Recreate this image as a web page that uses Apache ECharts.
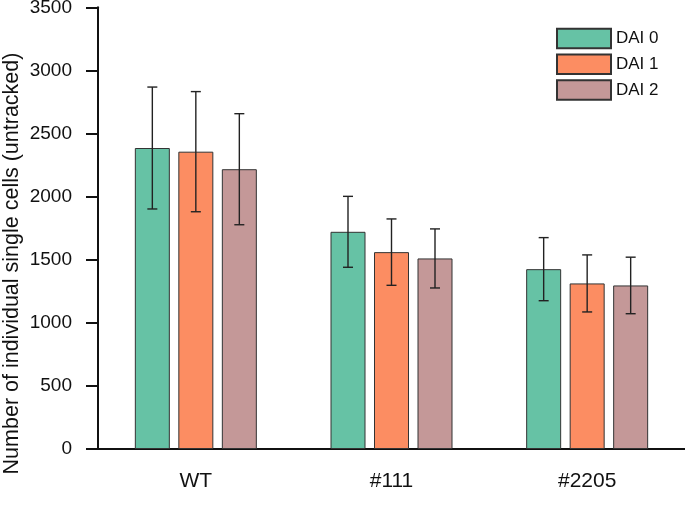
<!DOCTYPE html>
<html>
<head>
<meta charset="utf-8">
<script src="https://cdn.jsdelivr.net/npm/echarts@6/dist/echarts.min.js"></script>
<style>html,body{margin:0;padding:0;background:#fff}#c{width:685px;height:531px}</style>
</head>
<body>
<div id="c"></div>
<script>
const categories = ['WT', '#111', '#2205'];
const seriesNames = ['DAI 0', 'DAI 1', 'DAI 2'];
const dai0 = [2385, 1721, 1425];
const dai1 = [2356, 1560, 1312];
const dai2 = [2217, 1510, 1296];
const err0 = [483, 281, 250];
const err1 = [476, 263, 226];
const err2 = [440, 234, 224];
const yTicks = [0, 500, 1000, 1500, 2000, 2500, 3000, 3500];
const yTitle = 'Number of individual single cells (untracked)';

const means = [dai0, dai1, dai2];
const errs = [err0, err1, err2];
const colors = ['#66c2a5', '#fc8d62', '#c49898'];
const FONT = '"Liberation Sans", Arial, sans-serif';
const BAR_W = 35, BAR_GAP = 8.5;

const chart = echarts.init(document.getElementById('c'), null, {renderer: 'canvas'});

const series = [];
means.forEach((m, i) => {
  series.push({
    name: seriesNames[i],
    type: 'bar',
    data: m,
    barWidth: BAR_W,
    barGap: (BAR_GAP / BAR_W * 100) + '%',
    itemStyle: {color: colors[i], borderColor: '#333', borderWidth: 1},
    emphasis: {disabled: true},
    z: 2
  });
});
means.forEach((m, i) => {
  series.push({
    type: 'custom',
    name: 'err' + i,
    data: m.map((v, k) => [k, v - errs[i][k], v + errs[i][k]]),
    z: 5,
    renderItem: function (params, api) {
      const k = api.value(0);
      const lo = api.coord([k, api.value(1)]);
      const hi = api.coord([k, api.value(2)]);
      const x = lo[0] + (i - 1) * (BAR_W + BAR_GAP);
      const hw = 5;
      const st = {stroke: '#222', lineWidth: 1.4};
      return {
        type: 'group',
        children: [
          {type: 'line', shape: {x1: x, y1: lo[1], x2: x, y2: hi[1]}, style: st},
          {type: 'line', shape: {x1: x - hw, y1: lo[1], x2: x + hw, y2: lo[1]}, style: st},
          {type: 'line', shape: {x1: x - hw, y1: hi[1], x2: x + hw, y2: hi[1]}, style: st}
        ]
      };
    },
    encode: {x: 0, y: [1, 2]},
    silent: true
  });
});

chart.setOption({
  animation: false,
  backgroundColor: '#fff',
  grid: {left: 98, right: 0, top: 7.3, bottom: 82, containLabel: false, outerBoundsMode: 'none'},
  legend: {
    data: seriesNames,
    orient: 'vertical',
    left: 556,
    top: 27.7,
    padding: 0,
    icon: 'rect',
    itemWidth: 54,
    itemHeight: 19.5,
    itemGap: 4.3,
    textStyle: {fontFamily: FONT, fontSize: 17, color: '#111'},
    selectedMode: false
  },
  graphic: [{
    type: 'text',
    x: 12,
    y: 263.5,
    rotation: Math.PI / 2,
    style: {
      text: yTitle,
      fontFamily: FONT,
      fontSize: 21.5,
      fill: '#111',
      align: 'center',
      verticalAlign: 'middle'
    }
  }],
  xAxis: {
    type: 'category',
    data: categories,
    axisLine: {lineStyle: {color: '#111', width: 2}},
    axisTick: {alignWithLabel: true, length: 12, lineStyle: {color: '#111', width: 2}},
    axisLabel: {fontFamily: FONT, fontSize: 21, color: '#111', margin: 22}
  },
  yAxis: {
    type: 'value',
    min: yTicks[0],
    max: yTicks[yTicks.length - 1],
    interval: 500,
    splitLine: {show: false},
    axisLine: {show: true, lineStyle: {color: '#111', width: 2}},
    axisTick: {show: true, length: 12, lineStyle: {color: '#111', width: 2}},
    axisLabel: {fontFamily: FONT, fontSize: 19, color: '#111', margin: 26, formatter: v => String(v)}
  },
  series: series
});
</script>
</body>
</html>
